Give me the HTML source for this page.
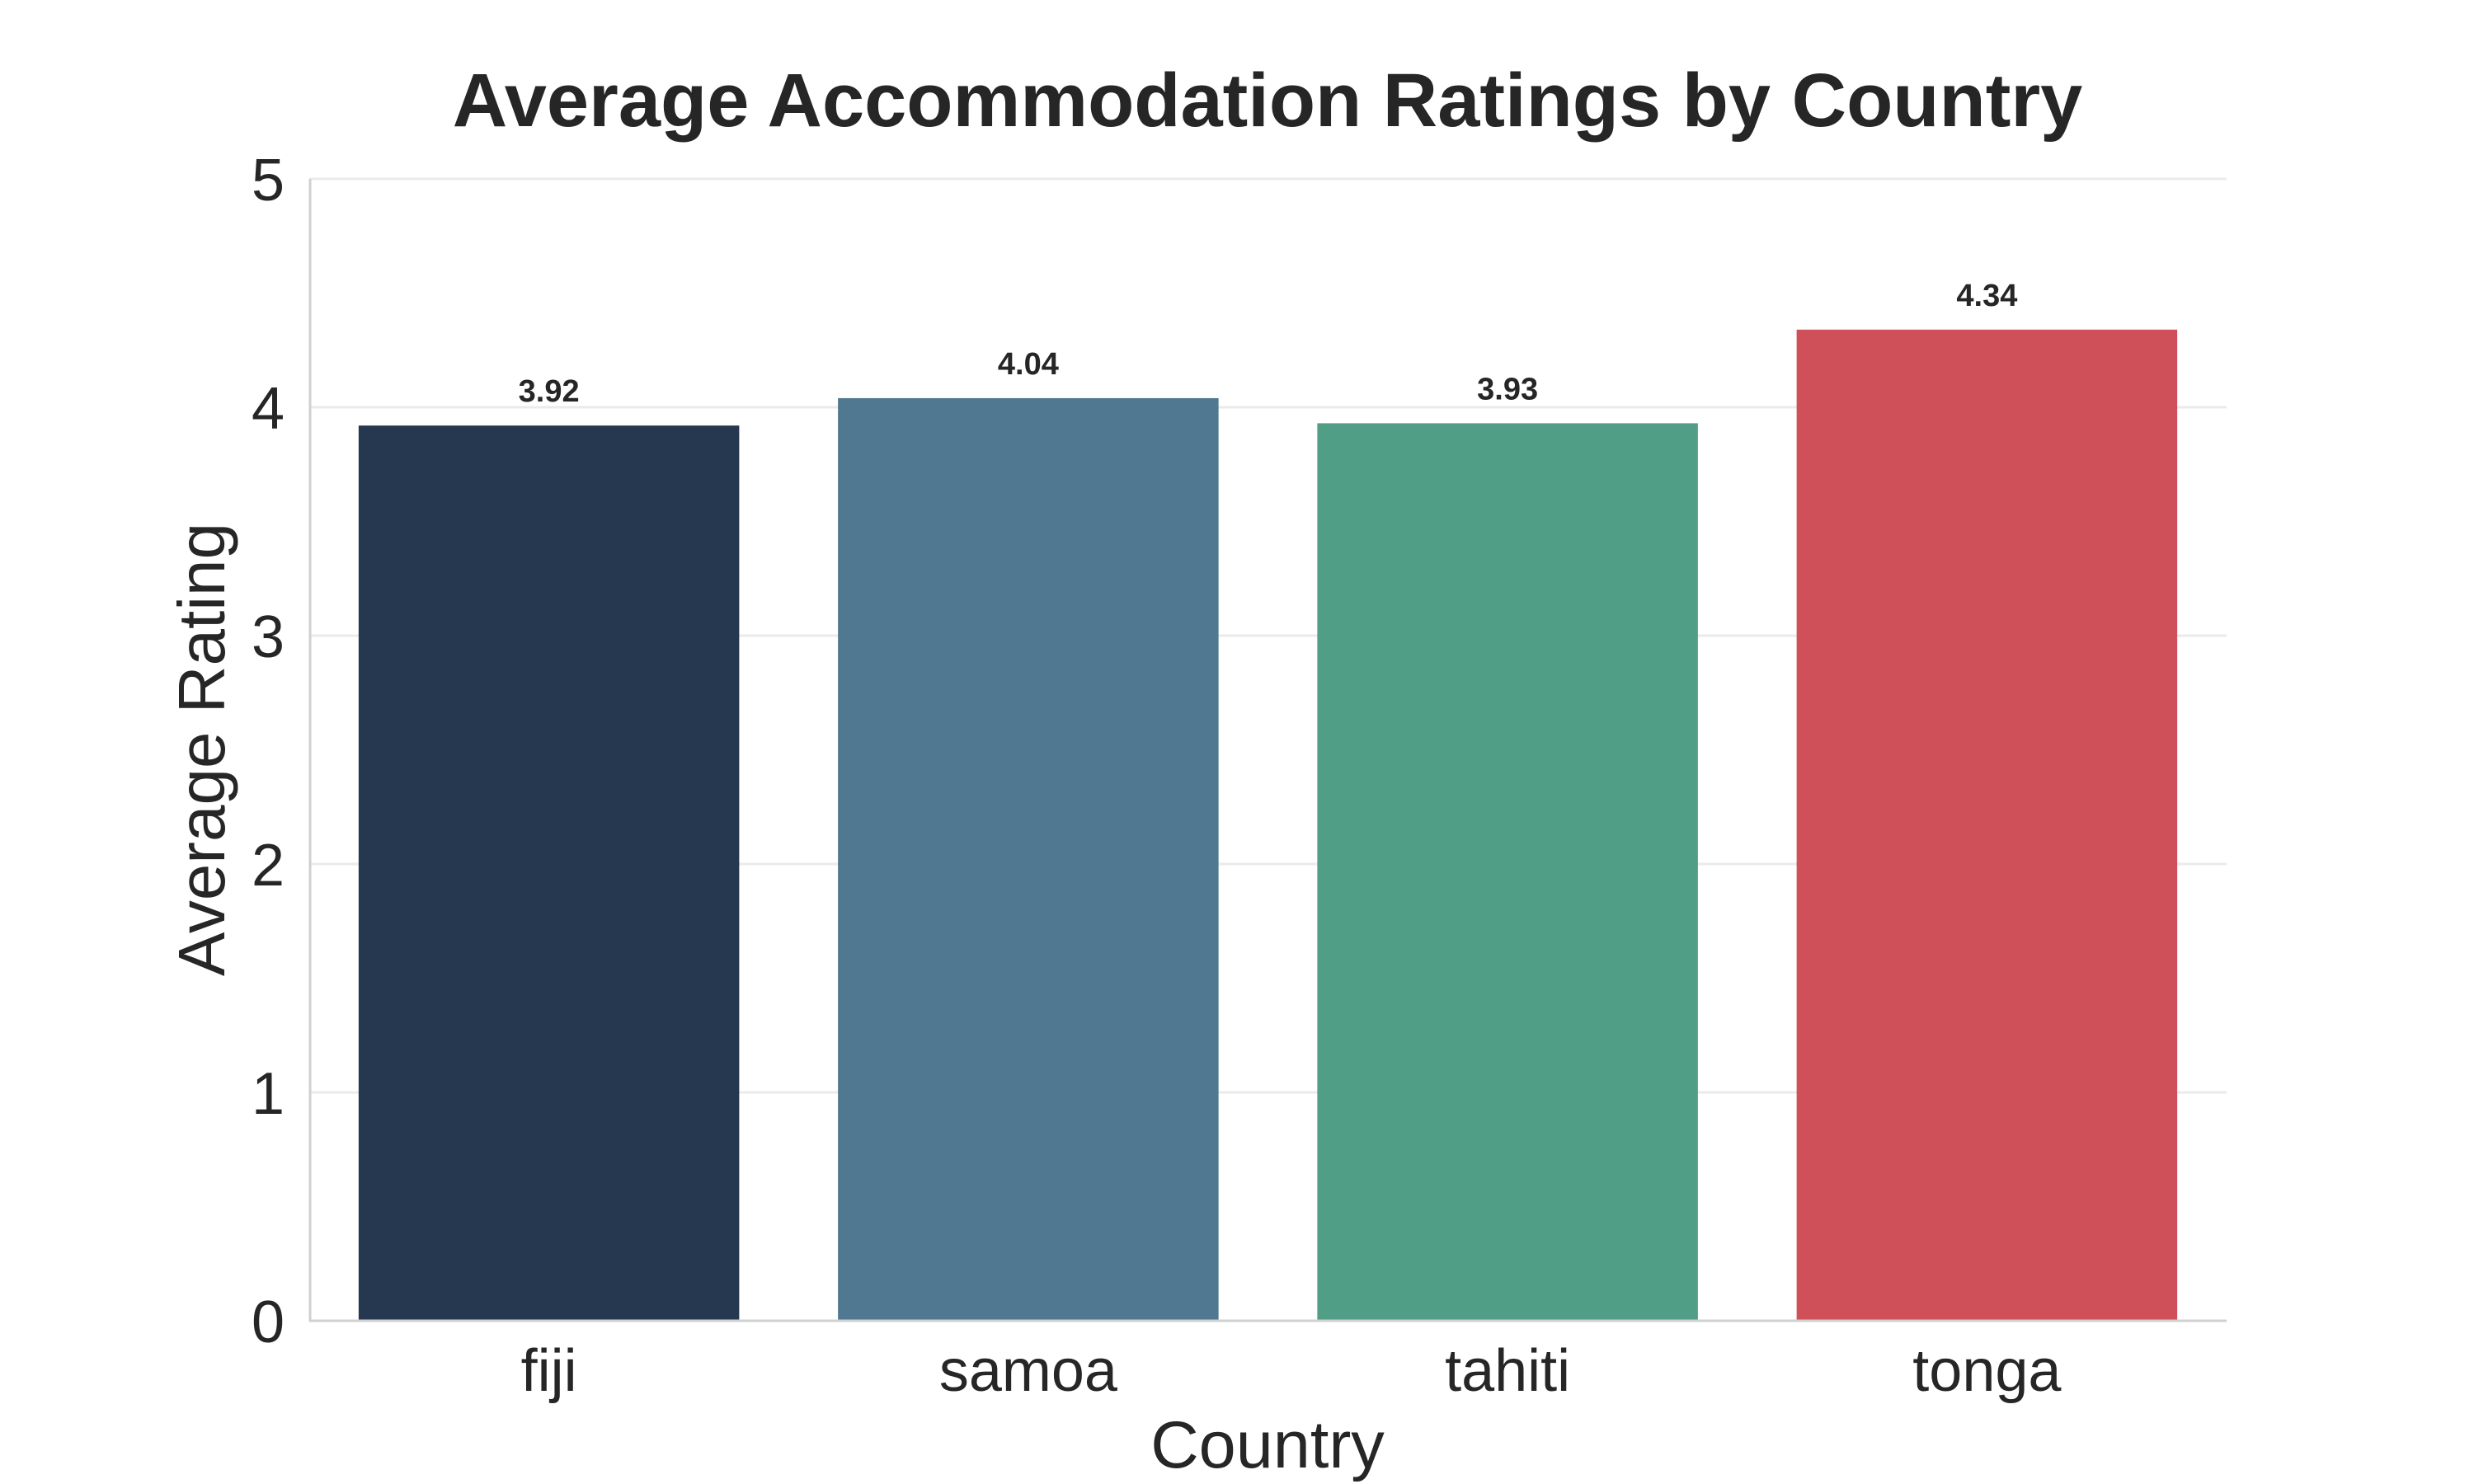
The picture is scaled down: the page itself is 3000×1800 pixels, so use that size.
<!DOCTYPE html>
<html><head><meta charset="utf-8"><style>
html,body{margin:0;padding:0;background:#fff;}
svg{display:block;font-family:"Liberation Sans",Arial,sans-serif;}
</style></head><body>
<svg id="chart" width="3000" height="1800" viewBox="0 0 3000 1800" xmlns="http://www.w3.org/2000/svg">
<rect width="3000" height="1800" fill="#fff"/>
<text x="1537" y="153" text-anchor="middle" font-size="92" font-weight="bold" fill="#262626">Average Accommodation Ratings by Country</text>
<g id="grid"></g>
<g id="bars"></g>
<g id="yticks"></g>
<g id="xticks"></g>
<line x1="376" y1="217" x2="376" y2="1603" stroke="#d0d0d0" stroke-width="3"/>
<line x1="375" y1="1602" x2="2700" y2="1602" stroke="#d0d0d0" stroke-width="3"/>
<text x="0" y="0" transform="translate(272,909) rotate(-90)" text-anchor="middle" font-size="80" fill="#262626">Average Rating</text>
<text x="1537" y="1780" text-anchor="middle" font-size="81" fill="#262626">Country</text>
</svg>
<script>
const categories = ["fiji", "samoa", "tahiti", "tonga"];
const ratings = [3.92, 4.04, 3.93, 4.34];
const valueLabels = ["3.92", "4.04", "3.93", "4.34"];
const barColors = ["#263750", "#517891", "#519e86", "#d0505a"];
const yTicks = [0, 1, 2, 3, 4, 5];

const NS = "http://www.w3.org/2000/svg";
const X0 = 375, X1 = 2700, Y0 = 1602, Y1 = 217;
const band = (X1 - X0) / categories.length;
function xCenter(i){ return X0 + band * (i + 0.5); }
function yScale(v){ return Y0 - (v / 5) * (Y0 - Y1); }
function mk(tag, attrs){ const e = document.createElementNS(NS, tag); for (const k in attrs) e.setAttribute(k, attrs[k]); return e; }

const grid = document.getElementById("grid");
const yt = document.getElementById("yticks");
yTicks.forEach(t => {
  if (t > 0) {
    const g = mk("line", {x1: X0, x2: X1, y1: yScale(t), y2: yScale(t), stroke: "#ebebeb", "stroke-width": 3});
    
    
    grid.appendChild(g);
  }
  const tx = mk("text", {x: 345, y: yScale(t) + 26, "text-anchor": "end", "font-size": 72, fill: "#262626"});
  tx.textContent = t;
  
  
  yt.appendChild(tx);
});

const bars = document.getElementById("bars");
const xt = document.getElementById("xticks");
const bw = band * 0.794;
categories.forEach((c, i) => {
  const cx = xCenter(i);
  const r = mk("rect", {x: cx - bw / 2, y: yScale(ratings[i]), width: bw, height: Y0 - yScale(ratings[i]), fill: barColors[i]});
  
  
  bars.appendChild(r);
  const vl = mk("text", {x: cx, y: yScale(ratings[i]) - 29, "text-anchor": "middle", "font-size": 38, "font-weight": "bold", fill: "#262626"});
  vl.textContent = valueLabels[i];
  
  
  bars.appendChild(vl);
  const xl = mk("text", {x: cx, y: 1687, "text-anchor": "middle", "font-size": 72, fill: "#262626"});
  xl.textContent = c;
  
  
  xt.appendChild(xl);
});
</script>
</body></html>
